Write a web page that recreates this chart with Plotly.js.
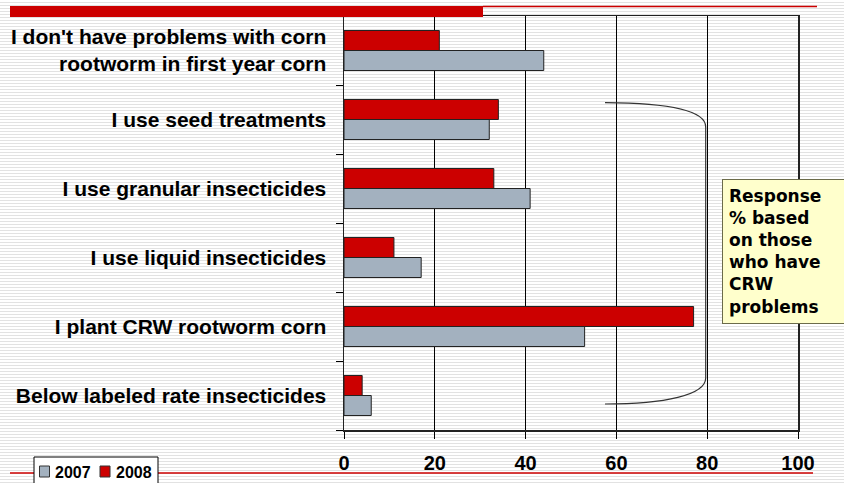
<!DOCTYPE html>
<html>
<head>
<meta charset="utf-8">
<script src="https://cdn.plot.ly/plotly-3.0.1.min.js"></script>
<style>
  html, body { margin: 0; padding: 0; }
  body {
    width: 844px; height: 483px; overflow: hidden;
    background: repeating-linear-gradient(to bottom, #ffffff 0px, #ffffff 2px, #e2e2e2 2px, #e2e2e2 3px);
  }
  #chart { width: 844px; height: 483px; }
</style>
</head>
<body>
<div id="chart"></div>
<script>
// ---- Data ----
const categories = [
  "I don't have problems with corn<br>rootworm in first year corn",
  "I use seed treatments",
  "I use granular insecticides",
  "I use liquid insecticides",
  "I plant CRW rootworm corn",
  "Below labeled rate insecticides"
];
const seriesNames = ["2007", "2008"];
const values2007 = [44, 32, 41, 17, 53, 6];
const values2008 = [21, 34, 33, 11, 77, 4];
const xTickValues = [0, 20, 40, 60, 80, 100];
const noteText = "Response<br>% based<br>on those<br>who have<br>CRW<br>problems";

// ---- Styles ----
const RED = "#cc0000";
const GRAY = "#a3b1bf";
const FONT = "Liberation Sans, Arial, sans-serif";
const seriesColors = [GRAY, RED];

const traces = [
  {
    type: "bar", orientation: "h", name: seriesNames[0],
    x: values2007, y: categories,
    marker: { color: seriesColors[0], line: { color: "#222", width: 1 } },
    hoverinfo: "skip"
  },
  {
    type: "bar", orientation: "h", name: seriesNames[1],
    x: values2008, y: categories,
    marker: { color: seriesColors[1], line: { color: "#222", width: 1 } },
    hoverinfo: "skip"
  }
];

// paper-coordinate helpers for decorations (plot area: x 344..798, y 16..430)
const PX = v => (v - 344) / 454;
const PY = v => (430 - v) / 414;

// custom legend (box + swatches + series-name labels)
const legendShapes = [
  { type: "rect", xref: "paper", yref: "paper", layer: "above",
    x0: PX(34), x1: PX(158), y0: PY(490), y1: PY(457),
    fillcolor: "#ffffff", line: { color: "#000", width: 1 } }
];
const legendAnnots = [];
const swatchX = [39.5, 100];
const textX = [53, 114];
seriesNames.forEach((name, i) => {
  legendShapes.push({ type: "rect", xref: "paper", yref: "paper", layer: "above",
    x0: PX(swatchX[i]), x1: PX(swatchX[i] + 10), y0: PY(477), y1: PY(466),
    fillcolor: seriesColors[i], line: { color: "#333", width: 1 } });
  legendAnnots.push({ xref: "paper", yref: "paper", x: PX(textX[i]), y: PY(472),
    xanchor: "left", yanchor: "middle", showarrow: false, text: name,
    font: { family: FONT, size: 16, weight: 700, color: "#000" } });
});

const layout = {
  width: 844, height: 483,
  margin: { l: 344, r: 46, t: 16, b: 53, pad: 0 },
  paper_bgcolor: "rgba(0,0,0,0)",
  plot_bgcolor: "rgba(0,0,0,0)",
  barmode: "group",
  bargap: 0.42,
  bargroupgap: 0,
  font: { family: FONT, color: "#000" },
  showlegend: false,
  xaxis: {
    range: [0, 100],
    tickvals: xTickValues,
    ticks: "outside", ticklen: 7, tickcolor: "#000", tickwidth: 1,
    showgrid: true, gridcolor: "#000", gridwidth: 1,
    zeroline: false,
    showline: true, linecolor: "#222", linewidth: 1.5, mirror: true,
    tickfont: { family: FONT, size: 20, weight: 700, color: "#000" },
    ticklabelstandoff: 7,
    fixedrange: true
  },
  yaxis: {
    type: "category",
    categoryorder: "array",
    categoryarray: categories.slice().reverse(),
    tickson: "boundaries",
    ticks: "outside", ticklen: 7, tickcolor: "#000", tickwidth: 1,
    showgrid: false, zeroline: false,
    showline: true, linecolor: "#222", linewidth: 1.5, mirror: true,
    tickfont: { family: FONT, size: 21, weight: 700, color: "#000" },
    ticklabelstandoff: 12,
    fixedrange: true
  },
  shapes: [
    // top thick red bar
    { type: "rect", xref: "paper", yref: "paper", layer: "above",
      x0: PX(10), x1: PX(483), y0: PY(17), y1: PY(6),
      fillcolor: RED, line: { width: 0 } },
    // top thin red line
    { type: "line", xref: "paper", yref: "paper", layer: "above",
      x0: PX(483), x1: PX(817), y0: PY(6.5), y1: PY(6.5),
      line: { color: RED, width: 1.5 } },
    // bottom thin red line
    { type: "line", xref: "paper", yref: "paper", layer: "above",
      x0: PX(10), x1: PX(813), y0: PY(473), y1: PY(473),
      line: { color: RED, width: 1.5 } },
    // brace
    { type: "path", xref: "paper", yref: "paper", layer: "above",
      path: "M " + PX(605) + "," + PY(102.7) +
            " C " + PX(665) + "," + PY(103) + " " + PX(705.7) + "," + PY(110) + " " + PX(705.7) + "," + PY(127) +
            " L " + PX(705.7) + "," + PY(378) +
            " C " + PX(705.7) + "," + PY(395) + " " + PX(665) + "," + PY(404) + " " + PX(605) + "," + PY(404),
      line: { color: "#333", width: 1.2 } }
  ].concat(legendShapes),
  annotations: [
    { xref: "paper", yref: "paper",
      x: PX(722), y: PY(179), xanchor: "left", yanchor: "top",
      text: noteText, showarrow: false, align: "left",
      width: 120, borderpad: 6,
      bgcolor: "#ffffcc", bordercolor: "#6b6b4a", borderwidth: 1,
      font: { family: "DejaVu Sans, Verdana, sans-serif", size: 17, weight: 700, color: "#000" } }
  ].concat(legendAnnots)
};

Plotly.newPlot("chart", traces, layout, { displayModeBar: false, staticPlot: true });
</script>
</body>
</html>
